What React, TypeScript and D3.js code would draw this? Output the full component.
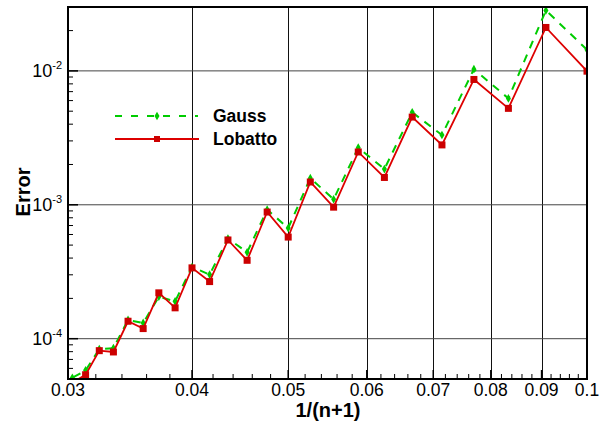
import { useEffect, useRef } from 'react'
import * as d3 from 'd3'

// n = 9 .. 32, x = 1/(n+1)
const nValues = [9, 10, 11, 12, 13, 14, 15, 16, 17, 18, 19, 20, 21, 22, 23, 24, 25, 26, 27, 28, 29, 30, 31, 32]
const gaussErr = [
  0.0144, 0.0283, 0.00623, 0.0103, 0.00332, 0.0049, 0.00185, 0.00267, 0.0011, 0.00158, 0.00067, 0.00092,
  0.000442, 0.00056, 0.000301, 0.000343, 0.00019, 0.000206, 0.000131, 0.000138, 0.000085, 0.0000835, 0.000058, 0.000051,
]
const lobattoErr = [
  0.00995, 0.0211, 0.00525, 0.00863, 0.0028, 0.00452, 0.0016, 0.00248, 0.00096, 0.00148, 0.000574, 0.000883,
  0.000385, 0.000546, 0.000267, 0.000338, 0.00017, 0.00022, 0.000119, 0.000135, 0.0000796, 0.0000814, 0.0000538, 0.000047,
]
const xMajor = [0.03, 0.04, 0.05, 0.06, 0.07, 0.08, 0.09, 0.1]
const xTickLabels = ['0.03', '0.04', '0.05', '0.06', '0.07', '0.08', '0.09', '0.1']
const yMajor = [1e-4, 1e-3, 1e-2]
const yTickExp = ['-4', '-3', '-2']
const seriesNames = ['Gauss', 'Lobatto']

export default function App() {
  const ref = useRef<SVGSVGElement>(null)

  useEffect(() => {
    const width = 600
    const height = 421
    const m = { left: 68, top: 7, right: 13, bottom: 42 }
    const w = width - m.left - m.right
    const h = height - m.top - m.bottom
    const font = 'Liberation Sans, Arial, Helvetica, sans-serif'

    const svg = d3.select(ref.current)
    svg.selectAll('*').remove()
    svg.attr('width', width).attr('height', height)
    svg.append('rect').attr('width', width).attr('height', height).attr('fill', '#fff')

    const x = d3.scaleLog().domain([0.03, 0.1]).range([0, w])
    const y = d3.scaleLog().domain([5e-5, 0.03]).range([h, 0])

    const root = svg.append('g').attr('transform', `translate(${m.left},${m.top})`)

    // grid
    root.append('g').selectAll('line').data(xMajor.slice(1, -1)).enter().append('line')
      .attr('x1', d => Math.round(x(d)) + 0.5).attr('x2', d => Math.round(x(d)) + 0.5).attr('y1', 0).attr('y2', h)
      .attr('stroke', '#111').attr('stroke-width', 1)
    root.append('g').selectAll('line').data(yMajor).enter().append('line')
      .attr('x1', 0).attr('x2', w).attr('y1', d => y(d)).attr('y2', d => y(d))
      .attr('stroke', '#444').attr('stroke-width', 1)

    // minor ticks
    const xMinor = d3.range(0.032, 0.1, 0.002).filter(v => Math.abs(v * 100 - Math.round(v * 100)) > 1e-6)
    root.append('g').selectAll('line').data(xMinor).enter().append('line')
      .attr('x1', d => x(d)).attr('x2', d => x(d)).attr('y1', h).attr('y2', h - 5)
      .attr('stroke', '#000').attr('stroke-width', 1)
    root.append('g').selectAll('line').data(xMajor).enter().append('line')
      .attr('x1', d => x(d)).attr('x2', d => x(d)).attr('y1', h).attr('y2', h - 9)
      .attr('stroke', '#000').attr('stroke-width', 1.5)

    const yMinor: number[] = []
    for (const dec of [1e-5, 1e-4, 1e-3, 1e-2]) {
      for (let k = 2; k <= 9; k++) {
        const v = k * dec
        if (v >= 5e-5 && v <= 0.03) yMinor.push(v)
      }
    }
    root.append('g').selectAll('line').data(yMinor).enter().append('line')
      .attr('x1', 0).attr('x2', 5).attr('y1', d => y(d)).attr('y2', d => y(d))
      .attr('stroke', '#000').attr('stroke-width', 1)
    root.append('g').selectAll('line').data(yMajor).enter().append('line')
      .attr('x1', 0).attr('x2', 10).attr('y1', d => y(d)).attr('y2', d => y(d))
      .attr('stroke', '#000').attr('stroke-width', 1.5)

    // series
    const clip = svg.append('clipPath').attr('id', 'plotclip')
    clip.append('rect').attr('width', w).attr('height', h)
    const plot = root.append('g').attr('clip-path', 'url(#plotclip)')

    const gaussPts = nValues.map((n, i) => [x(1 / (n + 1)), y(gaussErr[i])] as [number, number])
    const lobPts = nValues.map((n, i) => [x(1 / (n + 1)), y(lobattoErr[i])] as [number, number])
    const line = d3.line()

    plot.append('path').attr('d', line(gaussPts))
      .attr('fill', 'none').attr('stroke', '#00cc00').attr('stroke-width', 2)
      .attr('stroke-dasharray', '8,7')
    const diamond = d3.symbol().type(d3.symbolDiamond).size(22)
    plot.append('g').selectAll('path').data(gaussPts).enter().append('path')
      .attr('d', diamond()).attr('transform', d => `translate(${d[0]},${d[1]})`)
      .attr('fill', '#00cc00')

    plot.append('path').attr('d', line(lobPts))
      .attr('fill', 'none').attr('stroke', '#dd0000').attr('stroke-width', 1.8)
    plot.append('g').selectAll('rect').data(lobPts).enter().append('rect')
      .attr('x', d => d[0] - 3.5).attr('y', d => d[1] - 3.5).attr('width', 7).attr('height', 7)
      .attr('fill', '#cc0000')

    // frame
    root.append('rect').attr('width', w).attr('height', h)
      .attr('fill', 'none').attr('stroke', '#000').attr('stroke-width', 2)

    // tick labels
    root.append('g').selectAll('text').data(xMajor).enter().append('text')
      .attr('x', d => x(d)).attr('y', h + 17).attr('text-anchor', 'middle')
      .style('font-family', font).style('font-size', '17.5px').text((d, i) => xTickLabels[i])

    const yl = root.append('g').selectAll('text').data(yMajor).enter().append('text')
      .attr('x', -6).attr('y', d => y(d) + 6.5).attr('text-anchor', 'end')
      .style('font-family', font).style('font-size', '18px')
    yl.append('tspan').text('10')
    yl.append('tspan').attr('dy', -8).style('font-size', '11px').text((d, i) => yTickExp[i])

    // axis titles
    svg.append('text').attr('x', 328).attr('y', 417).attr('text-anchor', 'middle')
      .style('font-family', font).style('font-size', '20px').style('font-weight', 'bold').text('1/(n+1)')
    svg.append('text').attr('transform', 'translate(30,192) rotate(-90)').attr('text-anchor', 'middle')
      .style('font-family', font).style('font-size', '20px').style('font-weight', 'bold').text('Error')

    // legend
    const lg = svg.append('g')
    const ly = [116, 139]
    lg.append('line').attr('x1', 115).attr('x2', 198).attr('y1', ly[0]).attr('y2', ly[0])
      .attr('stroke', '#00cc00').attr('stroke-width', 2).attr('stroke-dasharray', '7,9')
    lg.append('path').attr('d', diamond()).attr('transform', `translate(157,${ly[0]})`).attr('fill', '#00cc00')
    lg.append('line').attr('x1', 115).attr('x2', 199).attr('y1', ly[1]).attr('y2', ly[1])
      .attr('stroke', '#dd0000').attr('stroke-width', 1.8)
    lg.append('rect').attr('x', 154).attr('y', ly[1] - 3).attr('width', 6).attr('height', 6).attr('fill', '#cc0000')
    lg.selectAll('text').data(seriesNames).enter().append('text')
      .attr('x', 213).attr('y', (d, i) => [121.5, 145][i])
      .style('font-family', font).style('font-size', '17.5px').style('font-weight', 'bold').text(d => d)
  }, [])

  return <svg ref={ref} style={{ position: 'absolute', left: 0, top: 0 }} />
}
